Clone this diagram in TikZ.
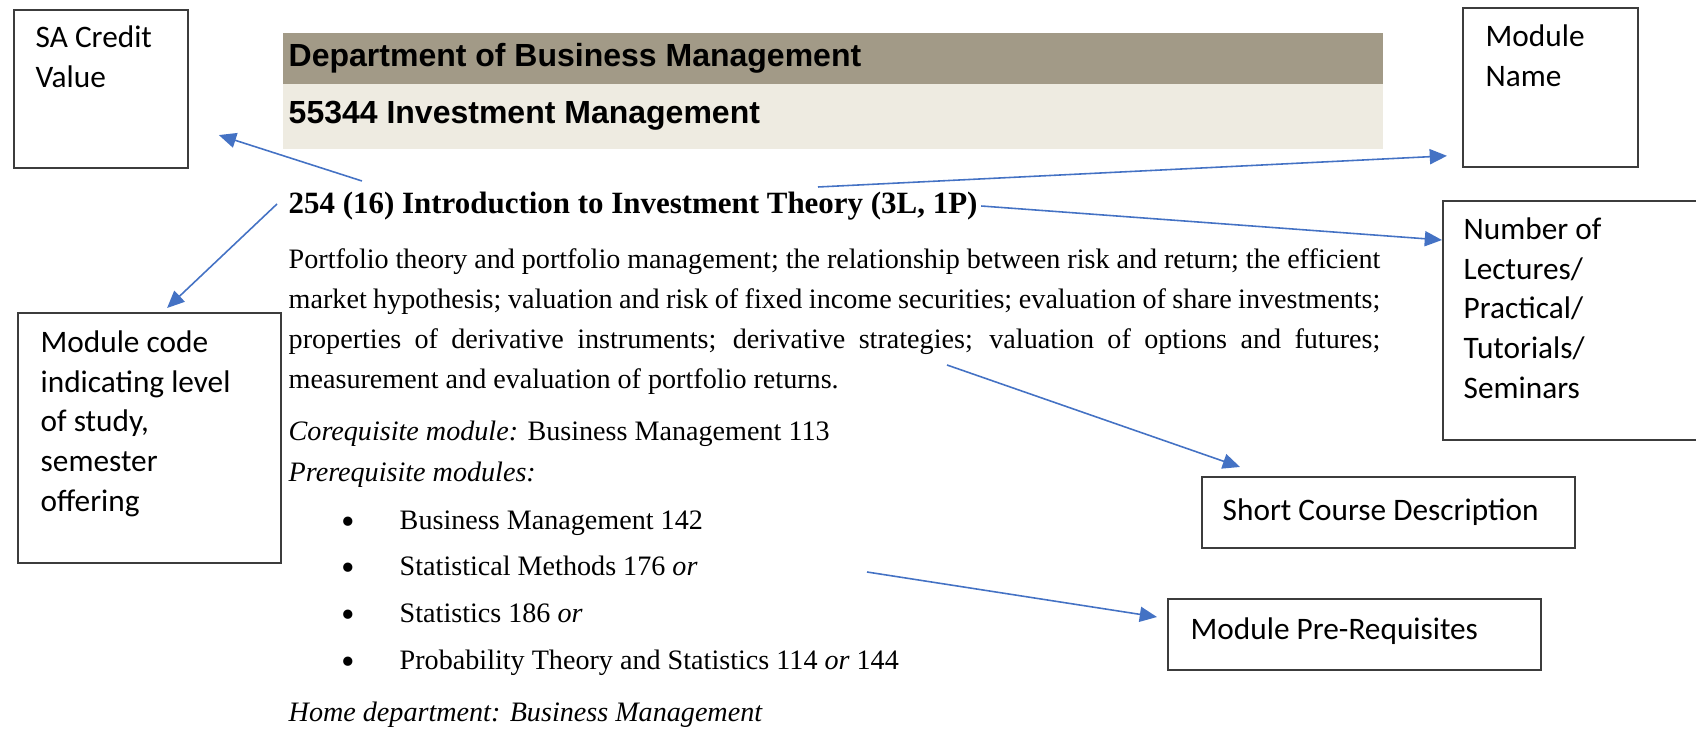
\documentclass[tikz,border=0pt]{standalone}
\usepackage{fontspec}
\setmainfont{Carlito}
\newfontfamily\docserif{Liberation Serif}
\newfontfamily\docsans{Liberation Sans}
\usetikzlibrary{positioning,arrows.meta}
\definecolor{pointerblue}{HTML}{4472C4}
\definecolor{bardark}{HTML}{A29A87}
\definecolor{barlight}{HTML}{EEEBE1}
\definecolor{boxgray}{HTML}{3C3C3C}
\newcommand{\docbullet}{\makebox[0.58cm][l]{\raisebox{-0.05cm}{\fontsize{11}{11}\selectfont\textbullet}}}

\begin{document}
\begin{tikzpicture}[x=0.01cm,y=-0.01cm,>={Triangle[length=4.9pt,width=4.3pt]},node distance=0.4cm,
    info box/.style={draw=boxgray,line width=0.5pt,inner sep=0,anchor=north west},
    box text/.style={inner sep=0,anchor=north west,align=left,font=\fontsize{8.9}{11.3}\selectfont},
    pointer/.style={->,draw=pointerblue,line width=0.45pt},
    doc line/.style={inner sep=0,text height=6pt,text depth=2pt,font=\docserif\fontsize{8}{9.6}\selectfont},
    head line/.style={inner sep=0,anchor=west,font=\docsans\bfseries\fontsize{9.1}{10}\selectfont}]

    \useasboundingbox (0,0) rectangle (1696,731);

    % header bars
    \node[fill=bardark,minimum width=11cm,minimum height=0.51cm,inner sep=0,anchor=north west] (deptbar) at (282,32) {};
    \node[fill=barlight,minimum width=11cm,minimum height=0.65cm,inner sep=0,anchor=north west] (codebar) at (282,83) {};
    \node[head line] (dept) at ([xshift=0.06cm]deptbar.west) {Department of Business Management};
    \node[head line] (subject) at ([xshift=0.06cm]codebar.west) {55344 Investment Management};

    % module entry
    \node[doc line,anchor=west,font=\docserif\bfseries\fontsize{8.8}{10}\selectfont] (title) at (288,206) {254 (16) Introduction to Investment Theory (3L, 1P)};
    \node[doc line,anchor=west] (l1) at (288,261) {\makebox[10.91cm][s]{Portfolio theory and portfolio management; the relationship between risk and return; the efficient}};
    \node[doc line] (l2) [below of = l1] {\makebox[10.91cm][s]{market hypothesis; valuation and risk of fixed income securities; evaluation of share investments;}};
    \node[doc line] (l3) [below of = l2] {\makebox[10.91cm][s]{properties of derivative instruments; derivative strategies; valuation of options and futures;}};
    \node[doc line] (l4) [below of = l3] {\makebox[10.91cm][l]{measurement and evaluation of portfolio returns.}};
    \node[doc line,anchor=west] (coreq) at (288,433) {\textit{Corequisite module:} Business Management 113};
    \node[doc line,anchor=west] (prereqs) at (288,474) {\textit{Prerequisite modules:}};
    \node[doc line,anchor=west] (b1) at (341,522) {\docbullet Business Management 142};
    \node[doc line,anchor=west] (b2) at (341,568) {\docbullet Statistical Methods 176 \textit{or}};
    \node[doc line,anchor=west] (b3) at (341,615) {\docbullet Statistics 186 \textit{or}};
    \node[doc line,anchor=west] (b4) at (341,662) {\docbullet Probability Theory and Statistics 114 \textit{or} 144};
    \node[doc line,anchor=west] (home) at (288,714) {\textit{Home department: Business Management}};

    % callout boxes
    \node[info box,minimum width=1.74cm,minimum height=1.58cm] (credit) at (13,9) {};
    \node[box text] (credit text) [below right=0.16cm and 0.22cm of credit.north west] {SA Credit\\Value};
    \node[info box,minimum width=1.75cm,minimum height=1.59cm] (name) at (1462,7) {};
    \node[box text] (name text) [below right=0.17cm and 0.23cm of name.north west] {Module\\Name};
    \node[info box,minimum width=2.58cm,minimum height=2.39cm] (hours) at (1442,200) {};
    \node[box text] (hours text) [below right=0.17cm and 0.21cm of hours.north west] {Number of\\Lectures/\\Practical/\\Tutorials/\\Seminars};
    \node[info box,minimum width=2.63cm,minimum height=2.5cm] (code) at (17,312) {};
    \node[box text] (code text) [below right=0.18cm and 0.23cm of code.north west] {Module code\\indicating level\\of study,\\semester\\offering};
    \node[info box,minimum width=3.73cm,minimum height=0.71cm] (short) at (1201,476) {};
    \node[box text,anchor=west] (short text) [right=0.21cm of short.west] {Short Course Description};
    \node[info box,minimum width=3.73cm,minimum height=0.71cm] (prereq) at (1167,598) {};
    \node[box text,anchor=west] (prereq text) [right=0.23cm of prereq.west,yshift=0.03cm] {Module Pre-Requisites};

    % pointers
    \coordinate (credit ref) at (362,181);
    \coordinate (code ref) at (277,204);
    \coordinate (name ref) at (818,187);
    \coordinate (desc ref) at (947,365);
    \coordinate (prereq ref) at (867,572);
    \draw[pointer] (credit ref) -- ([xshift=0.3cm,yshift=-1.26cm]credit.north east);
    \draw[pointer] (code ref) -- ([xshift=1.5cm,yshift=0.04cm]code.north west);
    \draw[pointer] (name ref) -- ([xshift=-0.15cm,yshift=0.12cm]name.south west);
    \draw[pointer] ([xshift=0.03cm]title.east) -- ([yshift=-0.4cm]hours.north west);
    \draw[pointer] (desc ref) -- ([xshift=0.39cm,yshift=0.09cm]short.north west);
    \draw[pointer] (prereq ref) -- ([xshift=-0.1cm,yshift=-0.19cm]prereq.north west);

\end{tikzpicture}
\end{document}
